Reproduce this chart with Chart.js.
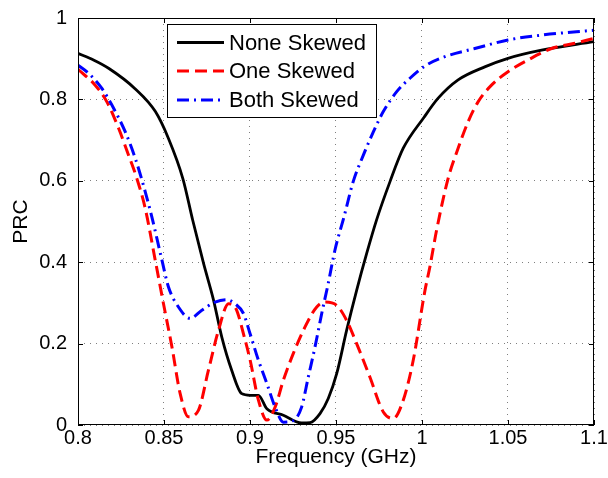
<!DOCTYPE html>
<html><head><meta charset="utf-8">
<script src="https://cdn.jsdelivr.net/npm/chart.js@4/dist/chart.umd.min.js"></script>
<style>html,body{margin:0;padding:0;background:#fff;}</style>
</head><body>
<canvas id="c" width="608" height="478"></canvas>
<script>
const seriesNames = ['None Skewed', 'One Skewed', 'Both Skewed'];

const noneFreq = [0.800,0.809,0.818,0.833,0.845,0.8526,0.8610,0.8667,0.873,0.8788,0.8836,0.8894,0.8952,0.9001,0.9049,0.9098,0.9194,0.930,0.935,0.9407,0.9455,0.9504,0.9562,0.962,0.9678,0.9736,0.9814,0.9891,1.001,1.0094,1.021,1.0365,1.050,1.0695,1.100];
const noneVals = [0.913,0.897,0.876,0.827,0.770,0.704,0.605,0.503,0.397,0.307,0.216,0.134,0.077,0.073,0.073,0.040,0.024,0.005,0.006,0.028,0.065,0.126,0.233,0.331,0.421,0.504,0.598,0.680,0.755,0.803,0.848,0.880,0.901,0.921,0.942];

const oneFreq = [0.800,0.810,0.8168,0.8236,0.8294,0.8342,0.8391,0.8449,0.8497,0.8546,0.8594,0.8642,0.870,0.8758,0.8817,0.8875,0.8913,0.8972,0.9001,0.9049,0.9098,0.9146,0.9194,0.9252,0.932,0.9388,0.9436,0.9504,0.9562,0.962,0.9697,0.9775,0.9833,0.9891,0.9949,1.0017,1.0046,1.0085,1.0152,1.021,1.0268,1.0326,1.0404,1.050,1.0617,1.0753,1.0888,1.100];
const oneVals = [0.874,0.835,0.794,0.729,0.663,0.606,0.532,0.405,0.298,0.192,0.077,0.020,0.036,0.134,0.233,0.298,0.290,0.208,0.159,0.061,0.012,0.044,0.110,0.176,0.241,0.290,0.302,0.294,0.257,0.200,0.118,0.032,0.016,0.061,0.159,0.330,0.389,0.479,0.606,0.680,0.745,0.794,0.835,0.868,0.897,0.925,0.938,0.950];

const bothFreq = [0.800,0.8062,0.8139,0.8197,0.8275,0.8333,0.8391,0.843,0.8488,0.8526,0.8584,0.8652,0.872,0.8797,0.8865,0.8913,0.8962,0.900,0.9049,0.9098,0.9146,0.9194,0.9252,0.930,0.9339,0.9378,0.9417,0.9455,0.9494,0.9547,0.960,0.9659,0.9717,0.9775,0.9853,0.993,1.0017,1.0133,1.0307,1.050,1.0695,1.100];
const bothVals = [0.884,0.864,0.827,0.786,0.720,0.655,0.573,0.510,0.405,0.339,0.290,0.262,0.282,0.302,0.308,0.298,0.274,0.225,0.159,0.102,0.044,0.007,0.011,0.044,0.118,0.192,0.274,0.348,0.430,0.512,0.598,0.663,0.720,0.770,0.819,0.852,0.882,0.905,0.925,0.946,0.958,0.970];

const xTickValues = [0.8, 0.85, 0.9, 0.95, 1, 1.05, 1.1];
const xTickLabels = ['0.8', '0.85', '0.9', '0.95', '1', '1.05', '1.1'];
const yTickValues = [0, 0.2, 0.4, 0.6, 0.8, 1];
const yTickLabels = ['0', '0.2', '0.4', '0.6', '0.8', '1'];
const xTitle = 'Frequency (GHz)';
const yTitle = 'PRC';

const FONT = "'Liberation Sans', Arial, Helvetica, sans-serif";
const colors = ['#000000', '#ff0000', '#0000ff'];
const dashes = [[], [12, 6], [12, 5, 2, 5]];
const widths = [2.8, 3, 3];

function pts(f, v) { return f.map((x, i) => ({ x: x, y: v[i] })); }

const frame = {
  id: 'frame',
  afterDatasetsDraw(chart) {
    const { ctx, chartArea: a, scales: { x, y } } = chart;
    ctx.save();
    ctx.strokeStyle = '#000';
    ctx.lineWidth = 1;
    ctx.setLineDash([]);
    ctx.beginPath();
    xTickValues.forEach(v => {
      const px = Math.round(x.getPixelForValue(v)) + 0.5;
      ctx.moveTo(px, a.bottom); ctx.lineTo(px, a.bottom - 5);
      ctx.moveTo(px, a.top); ctx.lineTo(px, a.top + 5);
    });
    yTickValues.forEach(v => {
      const py = Math.round(y.getPixelForValue(v)) + 0.5;
      ctx.moveTo(a.left, py); ctx.lineTo(a.left + 5, py);
      ctx.moveTo(a.right, py); ctx.lineTo(a.right - 5, py);
    });
    ctx.stroke();
    ctx.strokeRect(Math.round(a.left) + 0.5, Math.round(a.top) + 0.5, Math.round(a.right - a.left) - 1, Math.round(a.bottom - a.top) - 1);

    // legend
    const lx = 167, ly = 24, lw = 210, lh = 94;
    ctx.fillStyle = '#fff';
    ctx.fillRect(lx, ly, lw, lh);
    ctx.strokeRect(lx + 0.5, ly + 0.5, lw - 1, lh - 1);
    const rows = [42.5, 71, 100];
    chart.data.datasets.forEach((ds, i) => {
      const ry = rows[i];
      ctx.beginPath();
      ctx.strokeStyle = ds.borderColor;
      ctx.lineWidth = ds.borderWidth;
      ctx.setLineDash(ds.borderDash || []);
      ctx.moveTo(177, ry); ctx.lineTo(224, ry);
      ctx.stroke();
      ctx.setLineDash([]);
      ctx.fillStyle = '#000';
      ctx.font = '22px ' + FONT;
      ctx.textBaseline = 'middle';
      ctx.textAlign = 'left';
      ctx.fillText(ds.label, 229, ry + 1);
    });
    ctx.restore();
  }
};

new Chart(document.getElementById('c'), {
  type: 'line',
  data: {
    datasets: [
      { label: seriesNames[0], data: pts(noneFreq, noneVals), order: 2 },
      { label: seriesNames[1], data: pts(oneFreq, oneVals), order: 1 },
      { label: seriesNames[2], data: pts(bothFreq, bothVals), order: 0 }
    ].map((d, i) => Object.assign(d, {
      borderColor: colors[i], backgroundColor: colors[i], borderWidth: widths[i],
      borderDash: dashes[i], pointRadius: 0, fill: false,
      cubicInterpolationMode: 'monotone', borderCapStyle: 'butt', borderJoinStyle: 'round'
    }))
  },
  options: {
    responsive: false, animation: false, devicePixelRatio: 1,
    layout: { padding: { left: 0, right: 14, top: 18, bottom: 0 } },
    plugins: { legend: { display: false }, tooltip: { enabled: false } },
    scales: {
      x: {
        type: 'linear', min: 0.8, max: 1.1,
        afterBuildTicks: s => { s.ticks = xTickValues.map(v => ({ value: v })); },
        afterFit: s => { s.height = 53; s.paddingLeft = 0; s.paddingRight = 0; },
        ticks: { color: '#000', font: { family: FONT, size: 20 }, padding: 1, maxRotation: 0, autoSkip: false,
          callback: (v, i) => xTickLabels[i] },
        grid: { color: 'rgba(0,0,0,0.5)', lineWidth: 1, drawTicks: false },
        border: { display: false, dash: [1, 5] },
        title: { display: true, text: xTitle, color: '#000', font: { family: FONT, size: 21 }, padding: { top: 0, bottom: 8 } }
      },
      y: {
        type: 'linear', min: 0, max: 1,
        afterBuildTicks: s => { s.ticks = yTickValues.map(v => ({ value: v })); },
        afterFit: s => { s.width = 78; s.paddingTop = 0; s.paddingBottom = 0; },
        ticks: { color: '#000', font: { family: FONT, size: 20 }, padding: 11, autoSkip: false,
          callback: (v, i) => yTickLabels[i] },
        grid: { color: 'rgba(0,0,0,0.5)', lineWidth: 1, drawTicks: false },
        border: { display: false, dash: [1, 5] },
        title: { display: true, text: yTitle, color: '#000', font: { family: FONT, size: 21 }, padding: { top: 9, bottom: 0 } }
      }
    }
  },
  plugins: [frame]
});
</script>
</body></html>
